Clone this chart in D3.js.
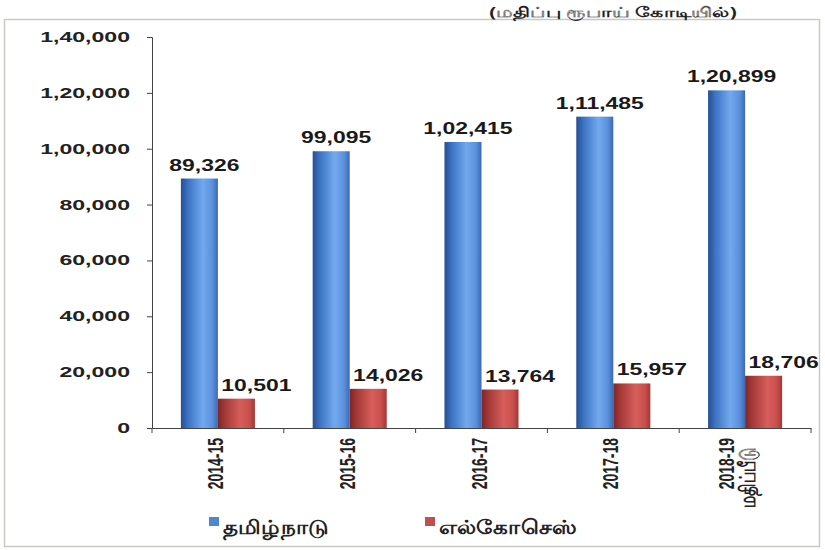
<!DOCTYPE html>
<html>
<head>
<meta charset="utf-8">
<script src="https://cdn.jsdelivr.net/npm/d3@7"></script>
<style>
  body { margin: 0; background: #fff; }
  svg { display: block; font-family: "Liberation Sans", Arial, sans-serif; }
</style>
</head>
<body>
<svg id="chart" width="825" height="550"></svg>
<script>
// chart data
const years = ["2014-15", "2015-16", "2016-17", "2017-18", "2018-19"];
const yearNotes = ["", "", "", "", "மதிப்பீடு"];
const seriesNames = ["தமிழ்நாடு", "எல்கோசெஸ்"];
const tamilNadu = [89326, 99095, 102415, 111485, 120899];
const elcoses = [10501, 14026, 13764, 15957, 18706];
const yTicks = [0, 20000, 40000, 60000, 80000, 100000, 120000, 140000];
const unitNote = "(மதிப்பு ரூபாய் கோடியில்)";

const svg = d3.select("#chart");

// indian style grouping 1,20,899
function inr(n) {
  let s = String(n);
  if (s.length <= 3) return s;
  let last = s.slice(-3), rest = s.slice(0, -3);
  rest = rest.replace(/\B(?=(\d{2})+(?!\d))/g, ",");
  return rest + "," + last;
}

// outer frame
svg.append("rect")
  .attr("x", 4.5).attr("y", 19.5)
  .attr("width", 815).attr("height", 527)
  .attr("fill", "none").attr("stroke", "#c9c9c4").attr("stroke-width", 1.5);

svg.append("text")
  .attr("transform", "translate(613,17) scale(1.48,1)")
  .attr("text-anchor", "middle")
  .attr("font-size", 14).attr("font-weight", "bold").attr("fill", "#222")
  .attr("font-family", "'Noto Sans', sans-serif")
  .text(unitNote);

const plotLeft = 152, plotRight = 811, plotTop = 37, plotBottom = 428;

const x0 = d3.scaleBand().domain(years).range([plotLeft, plotRight]);
const x1 = d3.scaleBand().domain([0, 1]).range([0, x0.bandwidth()]).paddingOuter(0.78);
const y = d3.scaleLinear().domain([0, 140000]).range([plotBottom, plotTop]);

// gradients for the cylinder look
const defs = svg.append("defs");
const grads = [
  { id: "gBlue", stops: [["0%", "#254f92"], ["20%", "#3d74c4"], ["60%", "#72a9ee"], ["85%", "#5b90dc"], ["100%", "#3a69b4"]] },
  { id: "gRed", stops: [["0%", "#7f2525"], ["20%", "#a53a38"], ["60%", "#d65e5b"], ["85%", "#c94f4c"], ["100%", "#a23735"]] }
];
grads.forEach(g => {
  const lg = defs.append("linearGradient").attr("id", g.id)
    .attr("x1", "0%").attr("x2", "100%").attr("y1", "0%").attr("y2", "0%");
  g.stops.forEach(s => lg.append("stop").attr("offset", s[0]).attr("stop-color", s[1]));
});

// y axis
const yAxis = svg.append("g")
  .attr("transform", `translate(${plotLeft},0)`)
  .call(d3.axisLeft(y).tickValues(yTicks).tickSize(5).tickFormat(""));
yAxis.select(".domain").attr("stroke", "#444");
yAxis.selectAll(".tick line").attr("stroke", "#444");

svg.append("g").selectAll("text")
  .data(yTicks).enter().append("text")
  .attr("transform", d => `translate(130,${y(d) + 5}) scale(1.65,1)`)
  .attr("text-anchor", "end")
  .attr("font-size", 14).attr("font-weight", "bold").attr("fill", "#222")
  .text(d => inr(d));

// x axis
const xAxis = svg.append("g")
  .attr("transform", `translate(0,${plotBottom})`)
  .call(d3.axisBottom(x0).tickSize(0).tickFormat(""));
xAxis.select(".domain").attr("stroke", "#444");
svg.append("g").selectAll("line")
  .data(years.concat(["end"])).enter().append("line")
  .attr("x1", (d, i) => i < years.length ? x0(d) : plotRight)
  .attr("x2", (d, i) => i < years.length ? x0(d) : plotRight)
  .attr("y1", plotBottom).attr("y2", plotBottom + 5)
  .attr("stroke", "#444");

// category labels, rotated
years.forEach((yr, i) => {
  const cx = x0(yr) + x0.bandwidth() / 2;
  const two = yearNotes[i] !== "";
  svg.append("text")
    .attr("transform", `translate(${two ? cx - 11 : cx + 5},438) scale(1.55,1) rotate(-90)`)
    .attr("text-anchor", "end")
    .attr("font-size", 14).attr("font-weight", "bold").attr("fill", "#222")
    .text(yr);
  if (two) {
    svg.append("text")
      .attr("transform", `translate(${cx + 10},508) scale(1.45,1) rotate(-90)`)
      .attr("text-anchor", "start")
      .attr("font-size", 15).attr("font-weight", "bold").attr("fill", "#222")
      .attr("font-family", "'Noto Sans', sans-serif")
      .text(yearNotes[i]);
  }
});

// bars
const rows = years.map((yr, i) => ({ year: yr, vals: [tamilNadu[i], elcoses[i]] }));
const group = svg.append("g").selectAll("g")
  .data(rows).enter().append("g")
  .attr("transform", d => `translate(${x0(d.year)},0)`);

group.selectAll("rect")
  .data(d => d.vals.map((v, k) => ({ k, v })))
  .enter().append("rect")
  .attr("x", d => x1(d.k))
  .attr("width", x1.bandwidth())
  .attr("y", d => y(d.v))
  .attr("height", d => plotBottom - y(d.v))
  .attr("fill", d => d.k === 0 ? "url(#gBlue)" : "url(#gRed)");

// value labels
group.selectAll("text")
  .data(d => d.vals.map((v, k) => ({ k, v })))
  .enter().append("text")
  .attr("transform", d => `translate(${x1(d.k) + x1.bandwidth() / 2 + (d.k === 0 ? 5 : 20)},${y(d.v) - 8}) scale(1.35,1)`)
  .attr("text-anchor", "middle")
  .attr("font-size", 17).attr("font-weight", "bold").attr("fill", "#1a1a1a")
  .text(d => inr(d.v));

// legend
const legendX = [209, 425];
const legendColors = ["#4f86d0", "#c0504d"];
seriesNames.forEach((name, i) => {
  svg.append("rect")
    .attr("x", legendX[i]).attr("y", 517)
    .attr("width", 10).attr("height", 9)
    .attr("fill", legendColors[i]);
  svg.append("text")
    .attr("transform", `translate(${legendX[i] + 14},534) scale(1.15,1)`)
    .attr("font-size", 20).attr("font-weight", "bold").attr("fill", "#222")
    .attr("font-family", "'Noto Sans', sans-serif")
    .text(name);
});
</script>
</body>
</html>
